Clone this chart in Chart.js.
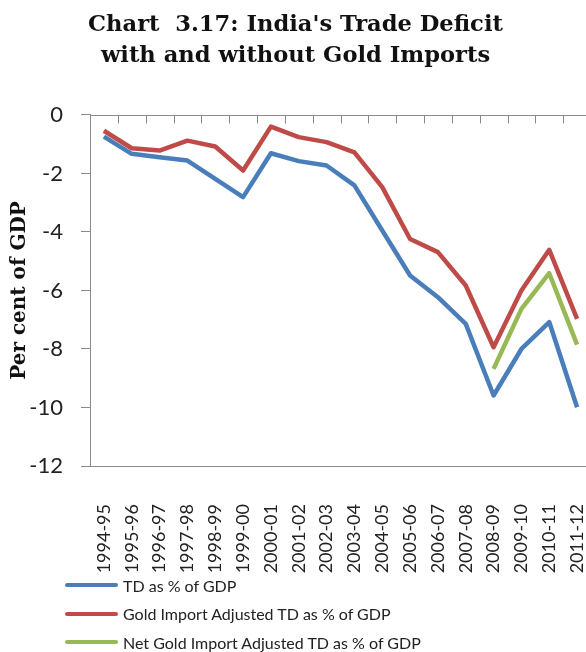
<!DOCTYPE html>
<html>
<head>
<meta charset="utf-8">
<script src="https://cdn.jsdelivr.net/npm/chart.js@4.4.1/dist/chart.umd.min.js"></script>
<style>
  html, body { margin: 0; padding: 0; background: #fff; overflow: hidden; }
  #wrap { position: relative; width: 591px; height: 652px; }
  #chart { position: absolute; left: 0; top: 0; }
  #legend { position: absolute; left: 65px; top: 571px; font-family: Lato, "Open Sans", sans-serif; font-size: 16px; color: #222; }
  .item { display: flex; align-items: center; height: 28.5px; white-space: nowrap; }
  .swatch { width: 53px; height: 4px; border-radius: 2px; margin-right: 5px; }
</style>
</head>
<body>
<div id="wrap">
  <canvas id="chart" width="591" height="652"></canvas>
  <div id="legend"></div>
</div>
<script>
// Fiscal years on the category axis
const years = ['1994-95','1995-96','1996-97','1997-98','1998-99','1999-00','2000-01','2001-02','2002-03',
               '2003-04','2004-05','2005-06','2006-07','2007-08','2008-09','2009-10','2010-11','2011-12'];

// Trade deficit as per cent of GDP
const tdPct = [-0.74,-1.33,-1.45,-1.56,-2.19,-2.81,-1.31,-1.58,-1.73,
               -2.41,-3.95,-5.49,-6.23,-7.14,-9.59,-8.00,-7.08,-9.99];

// Trade deficit excluding gold imports
const goldAdjPct = [-0.54,-1.14,-1.22,-0.88,-1.08,-1.90,-0.40,-0.76,-0.93,
                    -1.28,-2.47,-4.24,-4.69,-5.83,-7.94,-6.00,-4.61,-6.97];

// Trade deficit excluding net gold imports (available from 2008-09)
const netGoldAdjPct = [null,null,null,null,null,null,null,null,null,
                       null,null,null,null,null,-8.68,-6.63,-5.41,-7.85];

const seriesNames = ['TD as % of GDP','Gold Import Adjusted TD as % of GDP','Net Gold Import Adjusted TD as % of GDP'];
const yTicks = [0,-2,-4,-6,-8,-10,-12];

const axisGray = '#8a8a8a';

// Horizontal axis drawn at zero with short tick marks hanging down between categories
const zeroAxis = {
  id: 'zeroAxis',
  beforeDatasetsDraw(chart) {
    const {ctx, chartArea, scales: {x, y}} = chart;
    const y0 = Math.round(y.getPixelForValue(0)) + 0.5;
    ctx.save();
    ctx.strokeStyle = axisGray;
    ctx.lineWidth = 1;
    ctx.beginPath();
    ctx.moveTo(chartArea.left, y0);
    ctx.lineTo(chartArea.right, y0);
    const n = years.length;
    for (let i = 1; i <= n; i++) {
      const xb = i < n ? (x.getPixelForTick(i - 1) + x.getPixelForTick(i)) / 2 : chartArea.right;
      const xr = Math.round(xb) + 0.5;
      ctx.moveTo(xr, y0);
      ctx.lineTo(xr, y0 + 8);
    }
    ctx.stroke();
    ctx.restore();
  }
};

const chart = new Chart(document.getElementById('chart'), {
  type: 'line',
  data: {
    labels: years,
    datasets: [
      { label: seriesNames[0], data: tdPct, borderColor: '#4A7EBB' },
      { label: seriesNames[1], data: goldAdjPct, borderColor: '#BE4B48' },
      { label: seriesNames[2], data: netGoldAdjPct, borderColor: '#98B954' }
    ]
  },
  options: {
    responsive: false,
    devicePixelRatio: 1,
    animation: false,
    spanGaps: false,
    layout: { padding: { left: 0, right: 0, top: 0, bottom: 0 } },
    elements: {
      line: { borderWidth: 4.5, tension: 0, borderJoinStyle: 'round', borderCapStyle: 'butt', fill: false },
      point: { radius: 0, hoverRadius: 0 }
    },
    plugins: {
      legend: { display: false },
      tooltip: { enabled: false },
      title: {
        display: true,
        text: ['Chart  3.17: India\'s Trade Deficit', 'with and without Gold Imports'],
        color: '#111',
        font: { family: '"DejaVu Serif", serif', size: 22.6, weight: 'bold', lineHeight: 1.37 },
        padding: { top: 10, bottom: 43 }
      }
    },
    scales: {
      x: {
        type: 'category',
        offset: true,
        grid: { display: false, drawTicks: false },
        border: { display: true, color: axisGray, width: 1 },
        ticks: {
          autoSkip: false,
          minRotation: 90,
          maxRotation: 90,
          padding: 38,
          color: '#222',
          font: { family: 'Lato, sans-serif', size: 18 }
        },
        afterFit(scale) {
          scale.height = 186;
          scale.paddingLeft = 0;
          scale.paddingRight = 0;
        }
      },
      y: {
        min: -12,
        max: 0,
        afterBuildTicks(scale) { scale.ticks = yTicks.map(v => ({ value: v })); },
        grid: { drawOnChartArea: false, drawTicks: true, tickLength: 9, color: axisGray },
        border: { display: true, color: axisGray, width: 1 },
        ticks: {
          padding: 18,
          color: '#222',
          font: { family: 'Lato, sans-serif', size: 22 }
        },
        title: {
          display: true,
          text: 'Per cent of GDP',
          color: '#111',
          font: { family: '"DejaVu Serif", serif', size: 20, weight: 'bold', lineHeight: 1.2 },
          padding: { top: 8, bottom: 0 }
        },
        afterFit(scale) {
          scale.width = 90;
          scale.paddingTop = 0;
          scale.paddingBottom = 0;
        }
      }
    }
  },
  plugins: [zeroAxis]
});

// Legend listing each series with its line colour
const legendEl = document.getElementById('legend');
chart.data.datasets.forEach(ds => {
  const row = document.createElement('div');
  row.className = 'item';
  const sw = document.createElement('span');
  sw.className = 'swatch';
  sw.style.background = ds.borderColor;
  const txt = document.createElement('span');
  txt.textContent = ds.label;
  row.appendChild(sw);
  row.appendChild(txt);
  legendEl.appendChild(row);
});
</script>
</body>
</html>
